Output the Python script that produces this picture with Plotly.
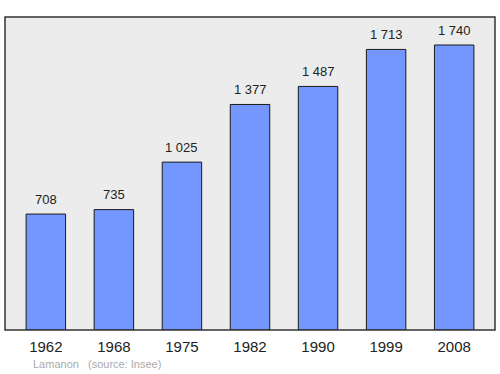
import plotly.graph_objects as go

years = ["1962", "1968", "1975", "1982", "1990", "1999", "2008"]
population = [708, 735, 1025, 1377, 1487, 1713, 1740]

labels = ["{:,}".format(v).replace(",", " ") for v in population]
FONT = "Liberation Sans, Arial, sans-serif"

fig = go.Figure()
fig.add_trace(go.Bar(
    x=list(range(len(years))),
    y=population,
    width=0.58,
    marker=dict(color="#7396ff", line=dict(color="#1a1a1a", width=1)),
    hoverinfo="skip",
))

for i, (v, t) in enumerate(zip(population, labels)):
    fig.add_annotation(x=i, y=v, text=t, showarrow=False, xref="x", yref="y",
                       yshift=15, font=dict(family=FONT, size=13, color="#222"))

fig.add_annotation(x=0.053, y=-0.109, xref="paper", yref="paper", text="Lamanon", showarrow=False,
                   xanchor="left", yanchor="middle",
                   font=dict(family=FONT, size=11, color="#aaaaaa"))
fig.add_annotation(x=0.165, y=-0.109, xref="paper", yref="paper", text="(source: Insee)", showarrow=False,
                   xanchor="left", yanchor="middle",
                   font=dict(family=FONT, size=11, color="#aaaaaa"))

fig.add_shape(type="rect", xref="paper", yref="paper", x0=0, y0=0, x1=1, y1=1,
              line=dict(color="#333333", width=1.5), layer="above")

fig.update_layout(
    width=500, height=374,
    margin=dict(l=5, r=5, t=17, b=44),
    paper_bgcolor="white",
    plot_bgcolor="#ececec",
    showlegend=False,
    xaxis=dict(range=[-0.6, 6.6], tickmode="array", tickvals=list(range(len(years))),
               ticktext=years, showgrid=False, zeroline=False, ticks="",
               ticklabelstandoff=6,
               tickfont=dict(family=FONT, size=15, color="#222")),
    yaxis=dict(range=[0, 1911], showgrid=False, zeroline=False, showticklabels=False, ticks=""),
)

fig.write_html("out.html")
